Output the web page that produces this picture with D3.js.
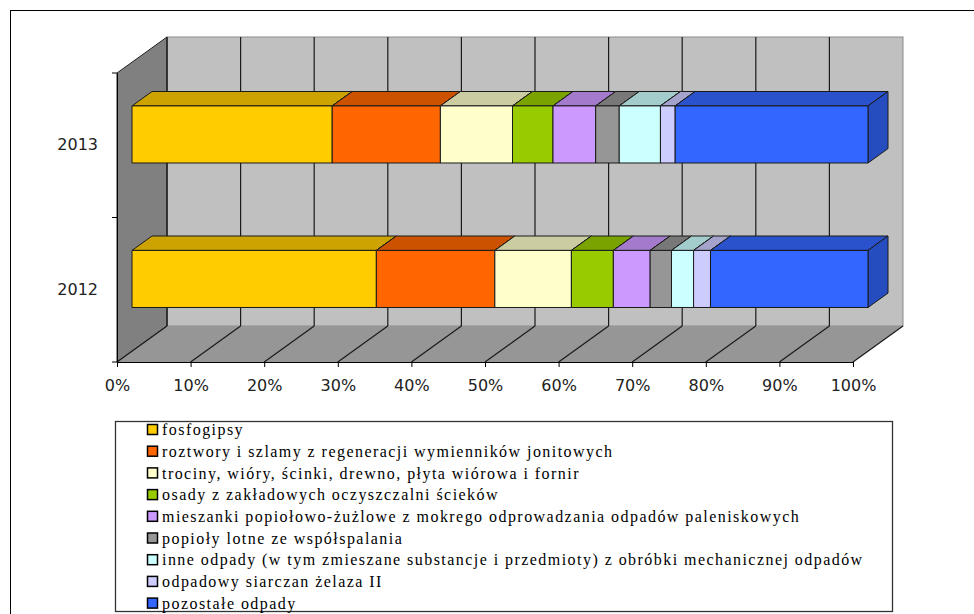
<!DOCTYPE html>
<html>
<head>
<meta charset="utf-8">
<script src="https://cdn.jsdelivr.net/npm/d3@7"></script>
<style>
  body { margin: 0; background: #fff; }
  svg { display: block; }
</style>
</head>
<body>
<div id="app"></div>
<script>
// --- data (percent share of each waste type) ---
const years = ["2013", "2012"];
const seriesNames = [
  "fosfogipsy",
  "roztwory i szlamy z regeneracji wymienników jonitowych",
  "trociny, wióry, ścinki, drewno, płyta wiórowa i fornir",
  "osady z zakładowych oczyszczalni ścieków",
  "mieszanki popiołowo-żużlowe z mokrego odprowadzania odpadów paleniskowych",
  "popioły lotne ze współspalania",
  "inne odpady (w tym zmieszane substancje i przedmioty) z obróbki mechanicznej odpadów",
  "odpadowy siarczan żelaza II",
  "pozostałe odpady"
];
const values2013 = [27.2, 14.7, 9.8, 5.5, 5.8, 3.2, 5.6, 2.0, 26.2];
const values2012 = [33.2, 16.1, 10.4, 5.7, 5.0, 2.9, 3.0, 2.3, 21.4];
const xTicks = [0, 10, 20, 30, 40, 50, 60, 70, 80, 90, 100];

const seriesColors = ["#FFCC00", "#FF6600", "#FFFFCC", "#99CC00", "#CC99FF",
  "#969696", "#CCFFFF", "#CCCCFF", "#3366FF"];

const width = 974, height = 614;
// front plane of the 3d box and its depth vector
const front = { left: 117, right: 853, top: 73, bottom: 362 };
const depth = { dx: 50, dy: -36 };
const barFront = 0.3, barBack = 0.7;

const x = d3.scaleLinear().domain([0, 100]).range([front.left, front.right]);
const y = d3.scaleBand()
  .domain(years)
  .range([front.top, front.bottom])
  .paddingInner(0.605)
  .paddingOuter(0.3025);

const shade = (c, f) => {
  const r = d3.rgb(c);
  return d3.rgb(r.r * f, r.g * f, r.b * f).formatHex();
};
const pts = (arr) => arr.map(p => p.join(",")).join(" ");

const svg = d3.select("#app")
  .append("svg")
  .attr("width", width)
  .attr("height", height);

// outer chart border (runs off the right/bottom of the picture)
svg.append("rect")
  .attr("x", 10.5).attr("y", 10.5)
  .attr("width", 1000).attr("height", 1000)
  .attr("fill", "#fff")
  .attr("stroke", "#000");

const plot = svg.append("g");

// walls
const bx = depth.dx, by = depth.dy;
plot.append("rect")
  .attr("x", front.left + bx).attr("y", front.top + by)
  .attr("width", front.right - front.left)
  .attr("height", front.bottom - front.top)
  .attr("fill", "#C0C0C0")
  .attr("stroke", "#8c8c8c");

plot.append("polygon")
  .attr("points", pts([
    [front.left, front.top], [front.left + bx, front.top + by],
    [front.left + bx, front.bottom + by], [front.left, front.bottom]
  ]))
  .attr("fill", "#808080")
  .attr("stroke", "#222");

plot.append("polygon")
  .attr("points", pts([
    [front.left, front.bottom], [front.right, front.bottom],
    [front.right + bx, front.bottom + by], [front.left + bx, front.bottom + by]
  ]))
  .attr("fill", "#969696");

// gridlines: back wall verticals + floor diagonals
plot.append("g")
  .selectAll("line")
  .data(xTicks.filter(d => d < 100))
  .join("line")
  .attr("x1", d => x(d) + bx).attr("x2", d => x(d) + bx)
  .attr("y1", front.top + by).attr("y2", front.bottom + by)
  .attr("stroke", "#1a1a1a")
  .attr("stroke-width", 1.2);

plot.append("g")
  .selectAll("line")
  .data(xTicks)
  .join("line")
  .attr("x1", d => x(d)).attr("y1", front.bottom)
  .attr("x2", d => x(d) + bx).attr("y2", front.bottom + by)
  .attr("stroke", "#1a1a1a")
  .attr("stroke-width", 1.2);

// stacked 3d bars
const rows = years.map((yr, i) => {
  const vals = i === 0 ? values2013 : values2012;
  const row = { year: yr };
  seriesNames.forEach((s, j) => row[s] = vals[j]);
  return row;
});
const stacked = d3.stack().keys(seriesNames)(rows);

const fx = depth.dx * barFront, fy = depth.dy * barFront;
const kx = depth.dx * barBack, ky = depth.dy * barBack;

const bars = plot.append("g");
years.forEach((yr, ri) => {
  const yt = y(yr), yb = y(yr) + y.bandwidth();
  stacked.forEach((layer, si) => {
    const [v0, v1] = layer[ri];
    const x0 = x(v0), x1 = x(v1);
    const col = seriesColors[si];
    const g = bars.append("g")
      .attr("stroke", "#1a1a1a")
      .attr("stroke-width", 1)
      .attr("stroke-linejoin", "round");
    g.append("polygon")
      .attr("points", pts([[x0 + fx, yt + fy], [x1 + fx, yt + fy], [x1 + kx, yt + ky], [x0 + kx, yt + ky]]))
      .attr("fill", shade(col, 0.8));
    g.append("polygon")
      .attr("points", pts([[x1 + fx, yt + fy], [x1 + kx, yt + ky], [x1 + kx, yb + ky], [x1 + fx, yb + fy]]))
      .attr("fill", shade(col, 0.75));
    g.append("rect")
      .attr("x", x0 + fx).attr("y", yt + fy)
      .attr("width", x1 - x0).attr("height", yb - yt)
      .attr("fill", col);
  });
});

// value axis
const xAxis = svg.append("g")
  .attr("transform", `translate(0,${front.bottom})`)
  .call(d3.axisBottom(x)
    .tickValues(xTicks)
    .tickFormat(d => d + "%")
    .tickSize(5)
    .tickSizeOuter(0)
    .tickPadding(13));
xAxis.selectAll("text")
  .attr("font-family", "DejaVu Sans")
  .attr("font-size", 16)
  .attr("fill", "#222");
xAxis.selectAll("line, path").attr("stroke", "#000");

// category axis
const yAxis = svg.append("g")
  .attr("transform", `translate(${front.left},0)`)
  .call(d3.axisLeft(y).tickSize(0).tickPadding(19));
yAxis.selectAll("text")
  .attr("font-family", "DejaVu Sans")
  .attr("font-size", 16)
  .attr("fill", "#222");
yAxis.select("path").attr("stroke", "#000");

const edges = d3.range(years.length + 1).map(i => front.top + i * y.step());
yAxis.append("g")
  .selectAll("line")
  .data(edges)
  .join("line")
  .attr("x1", -5).attr("x2", 0)
  .attr("y1", d => d).attr("y2", d => d)
  .attr("stroke", "#000");

// legend
const legend = svg.append("g");
legend.append("rect")
  .attr("x", 115.5).attr("y", 421.5)
  .attr("width", 777).attr("height", 190)
  .attr("fill", "#fff")
  .attr("stroke", "#333")
  .attr("stroke-width", 1.3);

const rowH = 21.7, firstRow = 429.5;
const item = legend.selectAll(".item")
  .data(seriesNames)
  .join("g")
  .attr("class", "item")
  .attr("transform", (d, i) => `translate(147,${firstRow + i * rowH})`);

item.append("rect")
  .attr("x", 0.5).attr("y", -5)
  .attr("width", 10).attr("height", 10)
  .attr("fill", (d, i) => seriesColors[i])
  .attr("stroke", "#000")
  .attr("stroke-width", 1.5);

item.append("text")
  .attr("x", 15)
  .attr("dy", "0.35em")
  .attr("font-family", "Liberation Serif")
  .attr("font-size", 16)
  .attr("letter-spacing", 1.45)
  .attr("fill", "#000")
  .text(d => d);
</script>
</body>
</html>
